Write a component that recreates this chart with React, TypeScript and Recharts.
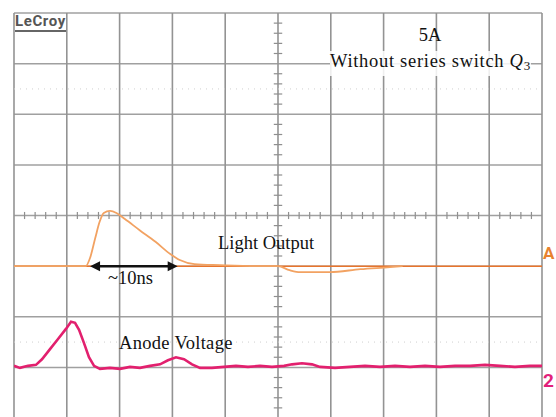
import { LineChart, Line, XAxis, YAxis, ReferenceLine } from 'recharts'

// time in ns (5 ns/div), amplitude in screen divisions
const lightTime = [0, 6.8, 7.2, 7.7, 8.1, 8.5, 9.1, 9.7, 10.5, 11.9, 13.4, 14.8, 15.7, 17.1, 19.5, 23.3, 25.0, 26.1, 27.1, 29.9, 32.8, 35.6, 36.8]
const lightValue = [-1.0, -1.0, -0.84, -0.44, -0.13, 0.05, 0.09, 0.05, -0.07, -0.29, -0.52, -0.76, -0.88, -0.96, -0.98, -1.0, -1.0, -1.08, -1.12, -1.12, -1.06, -1.02, -1.0]

const anodeTime = [0, 0.57, 1.33, 2.08, 2.65, 3.41, 4.17, 4.92, 5.4, 5.78, 6.16, 6.63, 7.1, 7.58, 8.14, 9.09, 10.04, 10.98, 11.93, 12.88, 13.83, 14.58, 15.34, 16.1, 16.86, 17.61, 18.75, 19.89, 21.02, 22.16, 23.3, 24.43, 25.57, 26.33, 27.27, 28.22, 28.98, 30.4, 31.82, 33.24, 34.66, 36.08, 37.5, 38.92, 40.34, 41.76, 43.18, 44.6, 46.02, 47.44, 48.86, 50]
const anodeValue = [-2.97, -3.01, -2.97, -2.95, -2.84, -2.64, -2.44, -2.24, -2.1, -2.12, -2.26, -2.52, -2.8, -2.97, -3.03, -3.01, -3.03, -2.99, -3.01, -2.97, -2.94, -2.86, -2.8, -2.84, -2.94, -3.01, -3.01, -2.99, -2.97, -2.99, -2.97, -2.99, -2.97, -2.94, -2.92, -2.94, -2.99, -3.01, -2.99, -2.97, -2.99, -2.97, -2.99, -2.97, -2.99, -2.97, -2.97, -2.95, -2.97, -2.99, -2.97, -2.97]

const gridX = [0, 5, 10, 15, 20, 25, 30, 35, 40, 45, 50]
const gridY = [-4, -3, -2, -1, 0, 1, 2, 3, 4]

const lightData = lightTime.map((t, i) => ({ t, v: lightValue[i] }))
const anodeData = anodeTime.map((t, i) => ({ t, v: anodeValue[i] }))

// minor ticks on the centre cross, 4 per division
const minorX: number[] = []
for (let t = 1; t < 50; t++) if (t % 5 !== 0) minorX.push(t)
const minorY: number[] = []
for (let k = -19; k < 20; k++) if (k % 5 !== 0) minorY.push(k / 5)

const serif = '"Liberation Serif", "Times New Roman", serif'
const note = { position: 'absolute' as const, fontFamily: serif, fontSize: 18.5, color: '#111', whiteSpace: 'nowrap' as const, lineHeight: '21px' }

const Arrow = (props: any) => {
  const { x1, y1, x2, y2 } = props
  return (
    <g>
      <line x1={x1 + 6} y1={y1} x2={x2 - 6} y2={y2} stroke="#111" strokeWidth={2.5} />
      <polygon points={`${x1},${y1} ${x1 + 10},${y1 - 5} ${x1 + 10},${y1 + 5}`} fill="#111" />
      <polygon points={`${x2},${y2} ${x2 - 10},${y2 - 5} ${x2 - 10},${y2 + 5}`} fill="#111" />
    </g>
  )
}

export default function App() {
  return (
    <div style={{ position: 'absolute', left: 0, top: 0, width: 556, height: 417, overflow: 'hidden', background: '#fff' }}>
      <LineChart width={556} height={420} margin={{ top: 13, right: 14, bottom: 2, left: 14 }}>
        <XAxis type="number" dataKey="t" domain={[0, 50]} hide allowDataOverflow />
        <YAxis type="number" domain={[-4, 4]} hide allowDataOverflow />
        {gridY.map((y) => (
          <ReferenceLine key={'gy' + y} y={y} stroke="#a0a0a0" strokeWidth={1.5} />
        ))}
        {gridX.map((x) => (
          <ReferenceLine key={'gx' + x} x={x} stroke="#939393" strokeWidth={1.6} />
        ))}
        <ReferenceLine y={2.5} stroke="#cfcfcf" strokeDasharray="1 5" />
        <ReferenceLine y={-2.5} stroke="#cfcfcf" strokeDasharray="1 5" />
        {minorX.map((t) => (
          <ReferenceLine key={'mx' + t} segment={[{ x: t, y: -0.07 }, { x: t, y: 0.07 }]} stroke="#8f8f8f" strokeWidth={1.2} />
        ))}
        {minorY.map((v) => (
          <ReferenceLine key={'my' + v} segment={[{ x: 24.6, y: v }, { x: 25.4, y: v }]} stroke="#8f8f8f" strokeWidth={1.2} />
        ))}
        <ReferenceLine y={-1} stroke="#e8742c" strokeWidth={1.5} />
        <Line data={lightData} dataKey="v" type="monotone" stroke="#f2a262" strokeWidth={1.8} dot={false} isAnimationActive={false} />
        <Line data={anodeData} dataKey="v" type="linear" stroke="#e2206e" strokeWidth={2.6} dot={false} isAnimationActive={false} />
        <ReferenceLine segment={[{ x: 7.2, y: -1 }, { x: 15.5, y: -1 }]} shape={Arrow} />
      </LineChart>

      <div style={{ position: 'absolute', left: 15, top: 13, fontFamily: 'Roboto, sans-serif', fontWeight: 700, fontSize: 15, letterSpacing: 0.6, color: '#555', borderBottom: '2px solid #666', lineHeight: '17px' }}>LeCroy</div>
      <div style={{ ...note, left: 400, width: 60, textAlign: 'center', top: 25 }}>5A</div>
      <div style={{ ...note, left: 330, top: 51, letterSpacing: 0.7, background: 'rgba(255,255,255,0.85)' }}>
        Without series switch <i>Q</i><span style={{ fontSize: 13, verticalAlign: -3 }}>3</span>
      </div>
      <div style={{ ...note, left: 218, top: 233 }}>Light Output</div>
      <div style={{ ...note, left: 108, top: 268 }}>~10ns</div>
      <div style={{ ...note, left: 119, top: 333, letterSpacing: 0.3 }}>Anode Voltage</div>
      <div style={{ position: 'absolute', left: 543, top: 243, fontFamily: 'Roboto, sans-serif', fontWeight: 700, fontSize: 17, color: '#e8822e' }}>A</div>
      <div style={{ position: 'absolute', left: 543, top: 369, fontFamily: 'Roboto, sans-serif', fontWeight: 700, fontSize: 19, color: '#e2207a' }}>2</div>
    </div>
  )
}
